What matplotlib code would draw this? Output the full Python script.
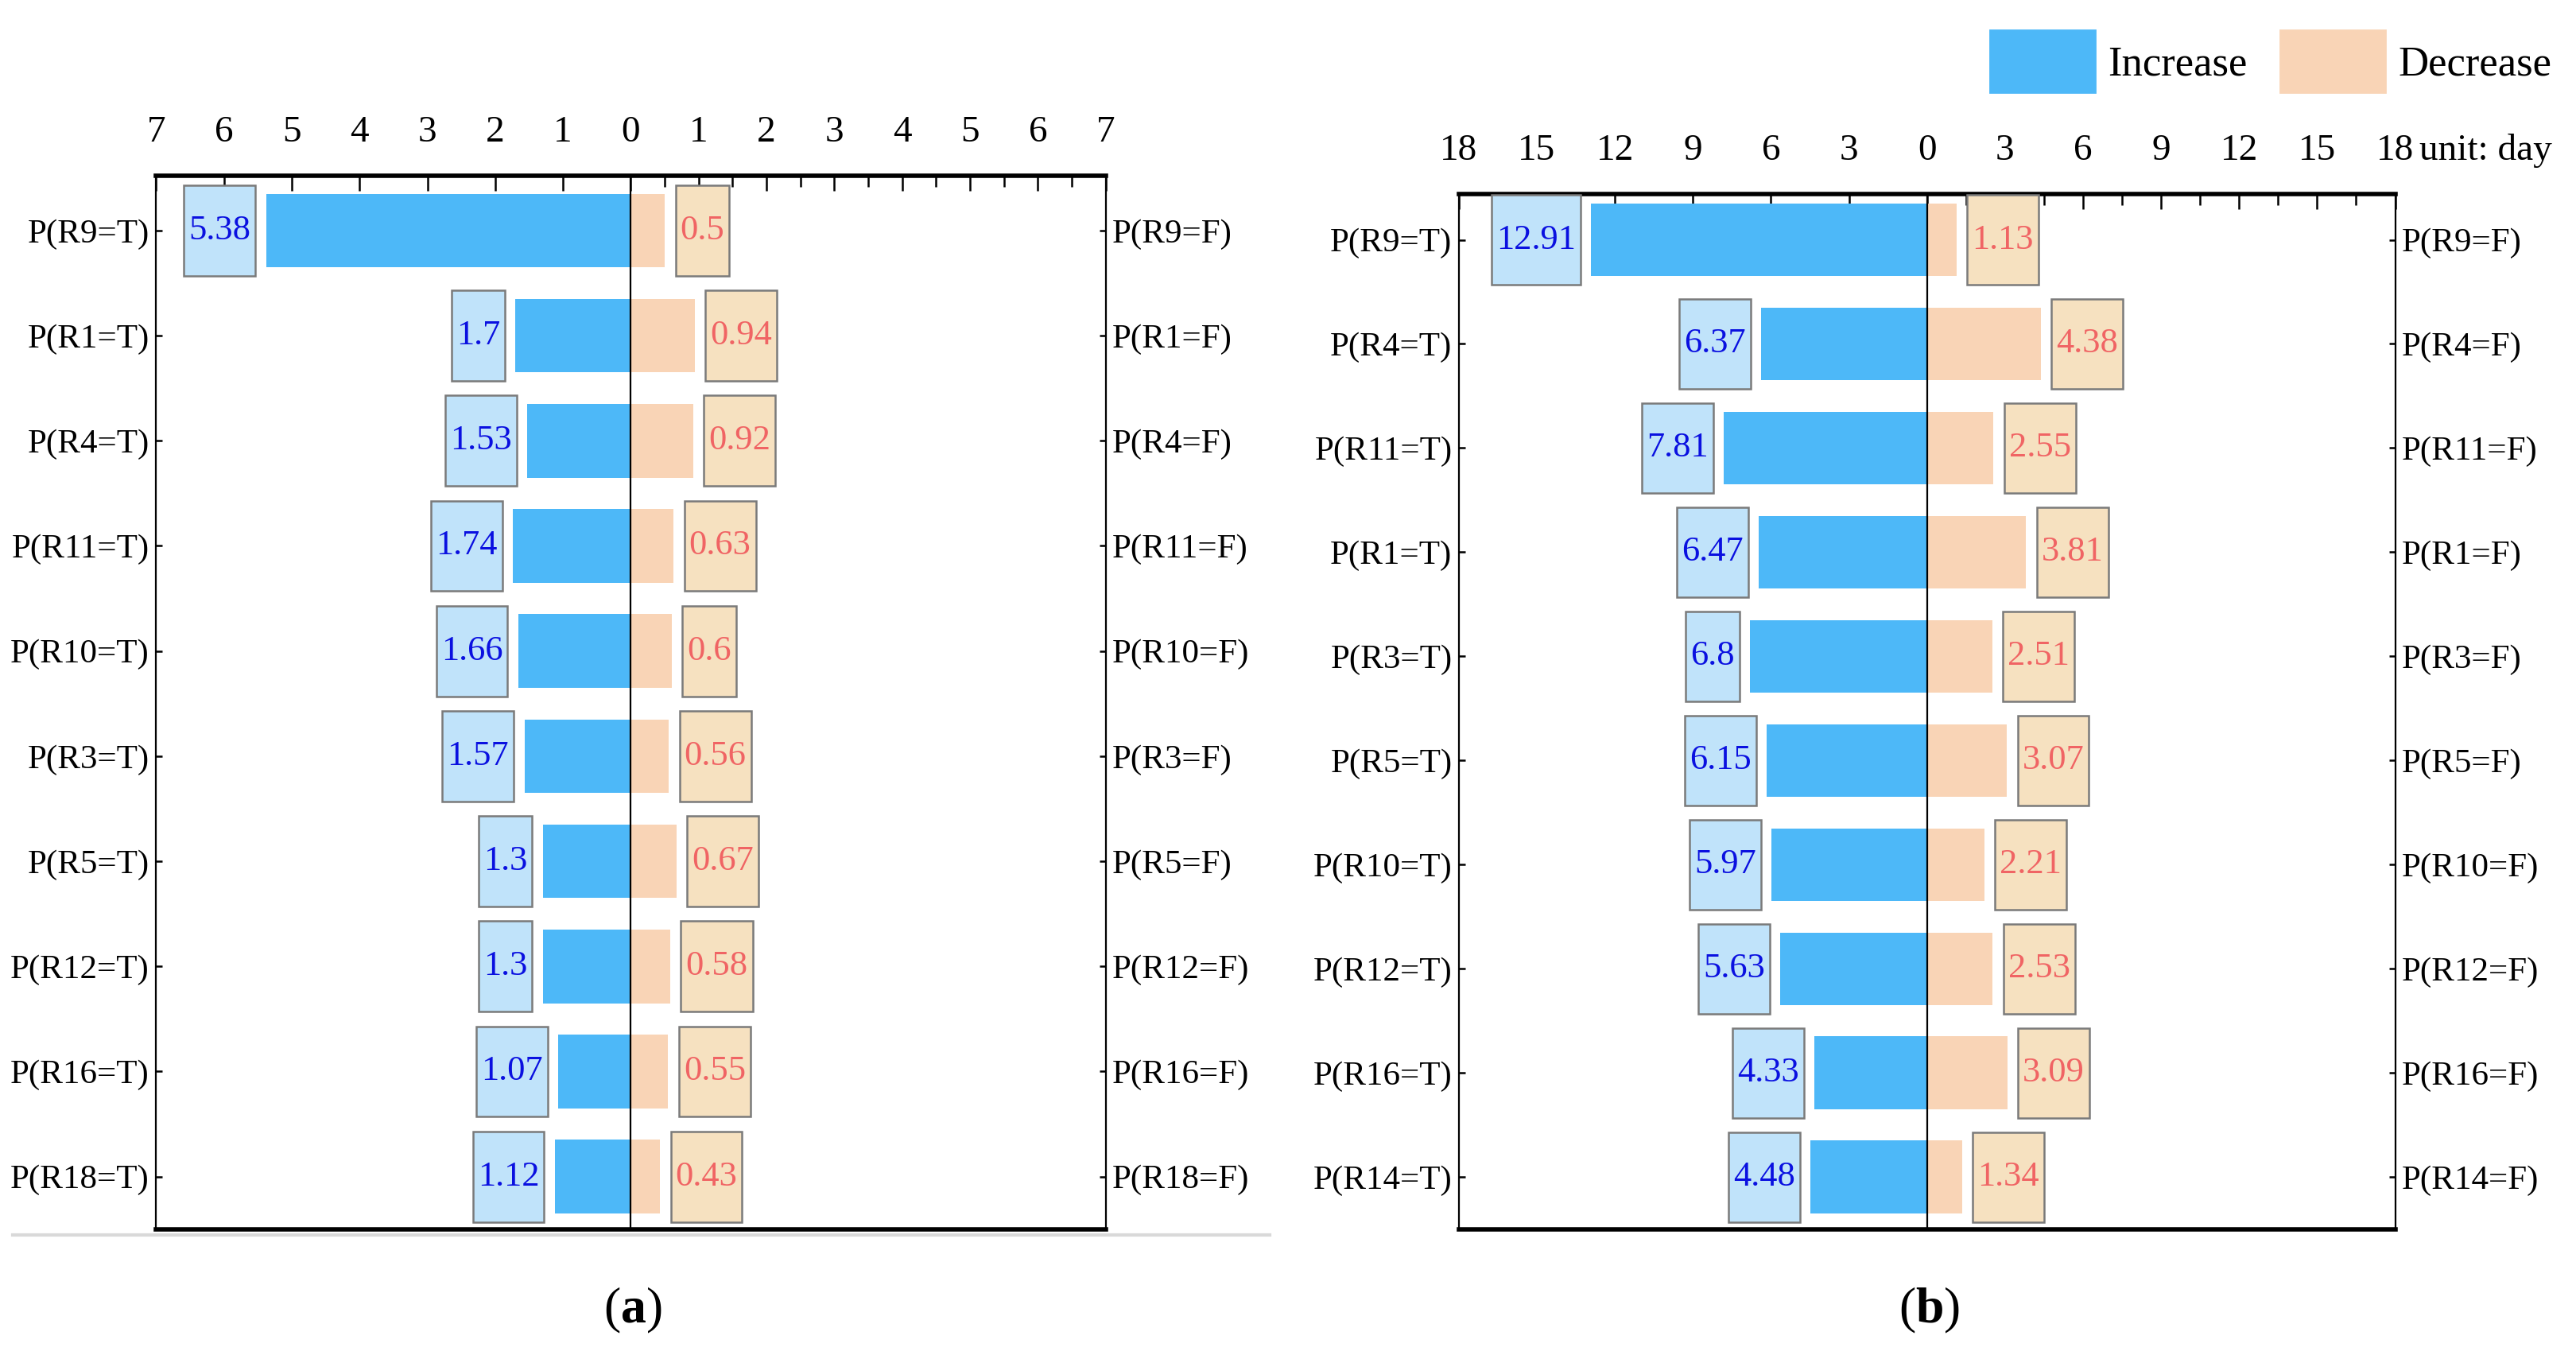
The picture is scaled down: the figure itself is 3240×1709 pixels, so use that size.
import numpy as np
import matplotlib
matplotlib.use("Agg")
import matplotlib.pyplot as plt
from matplotlib.patches import Patch, Rectangle
from matplotlib.lines import Line2D
from matplotlib.ticker import FixedLocator, FuncFormatter

plt.rcParams['font.family'] = ['Liberation Serif', 'DejaVu Serif']
plt.rcParams['mathtext.fontset'] = 'custom'
plt.rcParams['mathtext.rm'] = 'Liberation Serif'
plt.rcParams['mathtext.bf'] = 'Liberation Serif:bold'

# panel (a)
nodes_a = ["R9", "R1", "R4", "R11", "R10", "R3", "R5", "R12", "R16", "R18"]
inc_a = [5.38, 1.7, 1.53, 1.74, 1.66, 1.57, 1.3, 1.3, 1.07, 1.12]
dec_a = [0.5, 0.94, 0.92, 0.63, 0.6, 0.56, 0.67, 0.58, 0.55, 0.43]

# panel (b)
nodes_b = ["R9", "R4", "R11", "R1", "R3", "R5", "R10", "R12", "R16", "R14"]
inc_b = [12.91, 6.37, 7.81, 6.47, 6.8, 6.15, 5.97, 5.63, 4.33, 4.48]
dec_b = [1.13, 4.38, 2.55, 3.81, 2.51, 3.07, 2.21, 2.53, 3.09, 1.34]

BLUE = "#4db8f8"
PEACH = "#f9d4b6"
BLUE_BOX = "#c0e3fa"
PEACH_BOX = "#f6e1c0"
BLUE_TXT = "#0a10e0"
RED_TXT = "#f06464"

fig = plt.figure(figsize=(16.2, 8.545), dpi=200)


def draw_panel(rect, nodes, inc, dec, lim, step, ylim_top):
    ax = fig.add_axes(rect)
    y = np.arange(len(nodes))
    ax.barh(y, [-v for v in inc], height=0.7, color=BLUE, zorder=2)
    ax.barh(y, dec, height=0.7, color=PEACH, zorder=2)
    ax.axvline(0, color="black", lw=0.8, zorder=3)
    ax.set_xlim(-lim, lim)
    ax.set_ylim(len(nodes) - 0.5, ylim_top)

    ax.xaxis.tick_top()
    ax.xaxis.set_major_locator(FixedLocator(np.arange(-lim, lim + 0.1, step)))
    ax.xaxis.set_minor_locator(FixedLocator(np.arange(step / 2, lim, step)))
    ax.xaxis.set_major_formatter(FuncFormatter(lambda v, p: f"{abs(v):g}"))
    ax.tick_params(axis="x", which="major", direction="in", length=7, width=0.9,
                   pad=12, labelsize=17)
    ax.tick_params(axis="x", which="minor", direction="in", length=5, width=0.9)

    ax.set_yticks(y)
    ax.set_yticklabels([f"P({n}=T)" for n in nodes])
    ax.tick_params(axis="y", direction="in", length=3, width=0.9, pad=3, labelsize=15.5)

    ax2 = ax.twinx()
    ax2.set_ylim(ax.get_ylim())
    ax2.set_yticks(y)
    ax2.set_yticklabels([f"P({n}=F)" for n in nodes])
    ax2.tick_params(axis="y", direction="in", length=3, width=0.9, pad=3, labelsize=15.5)
    for s in ax2.spines.values():
        s.set_visible(False)

    for s in ["top", "bottom"]:
        ax.spines[s].set_linewidth(2.0)
    for s in ["left", "right"]:
        ax.spines[s].set_linewidth(0.8)

    texts = []
    for i, (a, b) in enumerate(zip(inc, dec)):
        t1 = ax.annotate(f"{a:g}", xy=(-a, i), xytext=(-7, 0), textcoords="offset points",
                         ha="right", va="center", color=BLUE_TXT, fontsize=16, zorder=5)
        t2 = ax.annotate(f"{b:g}", xy=(b, i), xytext=(7, 0), textcoords="offset points",
                         ha="left", va="center", color=RED_TXT, fontsize=16, zorder=5)
        texts.append((t1, i, BLUE_BOX))
        texts.append((t2, i, PEACH_BOX))
    return ax, texts


ax_a, texts_a = draw_panel([0.0606, 0.0955, 0.3686, 0.7751], nodes_a, inc_a, dec_a, 7, 1, -0.52)
ax_b, texts_b = draw_panel([0.5663, 0.0955, 0.3635, 0.7618], nodes_b, inc_b, dec_b, 18, 3, -0.44)

# boxes behind the value labels
fig.canvas.draw()
renderer = fig.canvas.get_renderer()
for ax, texts in [(ax_a, texts_a), (ax_b, texts_b)]:
    inv = ax.transData.inverted()
    for t, i, fc in texts:
        bb = t.get_window_extent(renderer)
        x0 = inv.transform((bb.x0 - 6, 0))[0]
        x1 = inv.transform((bb.x1 + 6, 0))[0]
        ax.add_patch(Rectangle((x0, i - 0.43), x1 - x0, 0.86, facecolor=fc,
                               edgecolor="#7a7a7a", lw=0.9, zorder=4))

ax_b.annotate("unit: day", xy=(1, 1), xycoords="axes fraction", xytext=(11, 12),
              textcoords="offset points", ha="left", va="bottom", fontsize=17)

handles = [Patch(color=BLUE), Patch(color=PEACH)]
fig.legend(handles, ["Increase", "Decrease"], loc="upper right",
           bbox_to_anchor=(0.997, 0.99), ncol=2, frameon=False, fontsize=19,
           handlelength=2.5, handleheight=1.9, columnspacing=0.8, handletextpad=0.3,
           borderaxespad=0.0)

fig.add_artist(Line2D([0.005, 0.493], [0.0915, 0.0915], color="#d9d9d9", lw=1.5))

fig.text(0.2455, 0.036, r"($\mathbf{a}$)", ha="center", va="center", fontsize=23)
fig.text(0.749, 0.036, r"($\mathbf{b}$)", ha="center", va="center", fontsize=23)

fig.savefig("out.png", dpi=200)
